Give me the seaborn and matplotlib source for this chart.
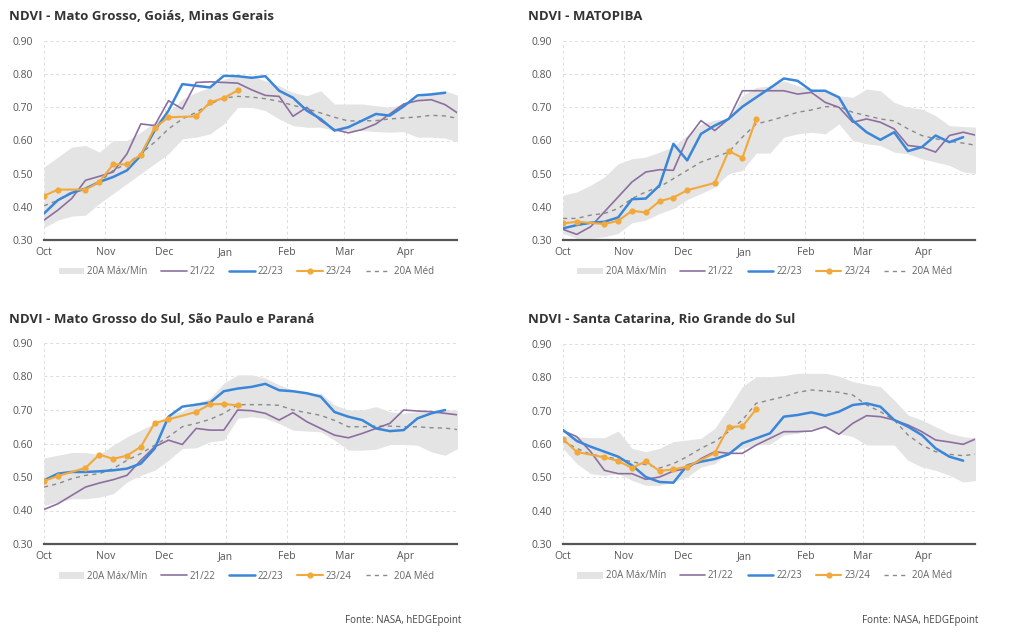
import numpy as np
import pandas as pd
import matplotlib
matplotlib.use("Agg")
import matplotlib.pyplot as plt
import seaborn as sns

sns.set_style("white")
plt.rcParams['font.family'] = ['Open Sans', 'DejaVu Sans']

# days since Oct 1 (weekly grid) and month ticks
week_days = np.arange(0, 211, 7)
days_2324 = [0, 7, 21, 28, 35, 42, 49, 56, 63, 77, 84, 91, 98]
month_days = [0, 31, 61, 92, 123, 152, 183]
month_labels = ['Oct', 'Nov', 'Dec', 'Jan', 'Feb', 'Mar', 'Apr']

# --- Mato Grosso, Goiás, Minas Gerais
mt_upper = [0.52, 0.55, 0.58, 0.585, 0.565, 0.60, 0.60, 0.625, 0.655, 0.685, 0.725, 0.745, 0.76, 0.785, 0.795, 0.795,
            0.78, 0.765, 0.745, 0.735, 0.75, 0.71, 0.71, 0.71, 0.705, 0.70, 0.71, 0.73, 0.745, 0.75, 0.735]
mt_lower = [0.337, 0.36, 0.372, 0.375, 0.41, 0.44, 0.47, 0.50, 0.53, 0.56, 0.605, 0.61, 0.62, 0.65, 0.70, 0.70,
            0.69, 0.665, 0.645, 0.64, 0.64, 0.63, 0.63, 0.63, 0.627, 0.625, 0.627, 0.61, 0.61, 0.607, 0.595]
mt_mean = [0.403, 0.42, 0.445, 0.455, 0.475, 0.51, 0.53, 0.56, 0.595, 0.635, 0.665, 0.685, 0.71, 0.728, 0.733, 0.731,
           0.726, 0.718, 0.706, 0.696, 0.683, 0.67, 0.659, 0.659, 0.66, 0.665, 0.668, 0.671, 0.676, 0.674, 0.666]
mt_2122 = [0.36, 0.39, 0.425, 0.48, 0.492, 0.505, 0.56, 0.65, 0.645, 0.72, 0.695, 0.775, 0.777, 0.775, 0.773, 0.753,
           0.736, 0.733, 0.673, 0.70, 0.66, 0.633, 0.623, 0.633, 0.65, 0.68, 0.71, 0.72, 0.723, 0.708, 0.68]
mt_2223 = [0.38, 0.42, 0.442, 0.455, 0.475, 0.49, 0.51, 0.555, 0.63, 0.69, 0.77, 0.765, 0.76, 0.795, 0.794, 0.789,
           0.794, 0.75, 0.729, 0.69, 0.665, 0.63, 0.64, 0.66, 0.68, 0.675, 0.703, 0.736, 0.739, 0.744]
mt_2324 = [0.433, 0.452, 0.452, 0.475, 0.528, 0.528, 0.557, 0.638, 0.67, 0.673, 0.715, 0.728, 0.751]

# --- MATOPIBA
mp_upper = [0.435, 0.445, 0.465, 0.49, 0.53, 0.545, 0.55, 0.565, 0.582, 0.615, 0.65, 0.662, 0.665, 0.735, 0.76, 0.765,
            0.78, 0.765, 0.755, 0.75, 0.735, 0.73, 0.755, 0.75, 0.715, 0.70, 0.695, 0.675, 0.645, 0.642, 0.64]
mp_lower = [0.32, 0.305, 0.305, 0.31, 0.32, 0.352, 0.36, 0.38, 0.395, 0.422, 0.44, 0.46, 0.50, 0.51, 0.562, 0.562,
            0.61, 0.62, 0.625, 0.62, 0.65, 0.60, 0.59, 0.585, 0.565, 0.56, 0.545, 0.535, 0.525, 0.505, 0.50]
mp_mean = [0.365, 0.365, 0.375, 0.38, 0.395, 0.425, 0.445, 0.46, 0.485, 0.51, 0.535, 0.55, 0.565, 0.61, 0.65, 0.66,
           0.672, 0.685, 0.692, 0.702, 0.702, 0.685, 0.675, 0.665, 0.659, 0.635, 0.615, 0.605, 0.598, 0.592, 0.585]
mp_2122 = [0.332, 0.317, 0.34, 0.385, 0.43, 0.475, 0.505, 0.512, 0.51, 0.605, 0.66, 0.63, 0.665, 0.75, 0.75, 0.75,
           0.75, 0.74, 0.745, 0.715, 0.70, 0.655, 0.665, 0.655, 0.635, 0.585, 0.58, 0.565, 0.615, 0.625, 0.615]
mp_2223 = [0.335, 0.345, 0.352, 0.355, 0.368, 0.423, 0.425, 0.465, 0.59, 0.54, 0.62, 0.645, 0.665, 0.702, 0.73, 0.758,
           0.787, 0.78, 0.75, 0.75, 0.73, 0.66, 0.625, 0.602, 0.625, 0.568, 0.58, 0.615, 0.595, 0.61]
mp_2324 = [0.35, 0.355, 0.348, 0.358, 0.388, 0.383, 0.417, 0.428, 0.45, 0.472, 0.568, 0.548, 0.665]

# --- Mato Grosso do Sul, São Paulo e Paraná
ms_upper = [0.557, 0.565, 0.573, 0.573, 0.567, 0.595, 0.62, 0.64, 0.66, 0.685, 0.697, 0.72, 0.735, 0.78, 0.805, 0.805,
            0.795, 0.775, 0.76, 0.75, 0.75, 0.715, 0.70, 0.70, 0.71, 0.695, 0.69, 0.695, 0.695, 0.70, 0.70]
ms_lower = [0.415, 0.425, 0.435, 0.435, 0.44, 0.45, 0.485, 0.505, 0.52, 0.55, 0.585, 0.587, 0.605, 0.61, 0.675, 0.68,
            0.675, 0.66, 0.64, 0.637, 0.635, 0.61, 0.58, 0.58, 0.583, 0.597, 0.597, 0.595, 0.575, 0.565, 0.587]
ms_mean = [0.47, 0.48, 0.495, 0.505, 0.51, 0.525, 0.55, 0.57, 0.595, 0.62, 0.65, 0.66, 0.672, 0.69, 0.716, 0.716,
           0.716, 0.714, 0.70, 0.692, 0.684, 0.669, 0.65, 0.65, 0.652, 0.652, 0.65, 0.65, 0.647, 0.646, 0.641]
ms_2122 = [0.403, 0.42, 0.445, 0.47, 0.482, 0.492, 0.505, 0.55, 0.59, 0.61, 0.597, 0.645, 0.64, 0.64, 0.70, 0.698,
           0.69, 0.67, 0.692, 0.665, 0.645, 0.625, 0.617, 0.63, 0.645, 0.66, 0.70, 0.697, 0.695, 0.69, 0.685]
ms_2223 = [0.49, 0.51, 0.515, 0.515, 0.517, 0.52, 0.525, 0.54, 0.585, 0.68, 0.71, 0.716, 0.722, 0.756, 0.764, 0.769,
           0.778, 0.759, 0.756, 0.75, 0.74, 0.694, 0.68, 0.67, 0.645, 0.637, 0.64, 0.675, 0.69, 0.70]
ms_2324 = [0.488, 0.503, 0.527, 0.567, 0.554, 0.564, 0.59, 0.661, 0.672, 0.694, 0.717, 0.718, 0.714]

# --- Santa Catarina, Rio Grande do Sul
sc_upper = [0.625, 0.622, 0.619, 0.619, 0.639, 0.587, 0.577, 0.587, 0.607, 0.612, 0.617, 0.647, 0.707, 0.772, 0.802,
            0.802, 0.805, 0.812, 0.812, 0.812, 0.804, 0.787, 0.779, 0.772, 0.732, 0.687, 0.672, 0.652, 0.632, 0.622, 0.617]
sc_lower = [0.587, 0.541, 0.511, 0.506, 0.511, 0.491, 0.476, 0.476, 0.486, 0.501, 0.531, 0.541, 0.577, 0.587, 0.597,
            0.599, 0.627, 0.632, 0.647, 0.647, 0.632, 0.622, 0.597, 0.597, 0.597, 0.551, 0.531, 0.521, 0.506, 0.486, 0.491]
sc_mean = [0.609, 0.587, 0.569, 0.562, 0.555, 0.547, 0.538, 0.528, 0.541, 0.562, 0.587, 0.607, 0.637, 0.672, 0.722,
           0.732, 0.742, 0.755, 0.762, 0.759, 0.755, 0.747, 0.717, 0.697, 0.672, 0.627, 0.597, 0.577, 0.569, 0.565, 0.57]
sc_2122 = [0.64, 0.622, 0.577, 0.521, 0.511, 0.511, 0.494, 0.501, 0.519, 0.526, 0.556, 0.577, 0.572, 0.572, 0.597,
           0.617, 0.637, 0.637, 0.639, 0.652, 0.629, 0.662, 0.685, 0.682, 0.672, 0.657, 0.637, 0.612, 0.606, 0.599, 0.617]
sc_2223 = [0.642, 0.609, 0.592, 0.577, 0.562, 0.536, 0.501, 0.486, 0.484, 0.536, 0.547, 0.555, 0.569, 0.602, 0.617,
           0.632, 0.682, 0.687, 0.695, 0.685, 0.697, 0.717, 0.722, 0.712, 0.672, 0.652, 0.627, 0.587, 0.562, 0.55]
sc_2324 = [0.615, 0.576, 0.56, 0.549, 0.528, 0.548, 0.519, 0.524, 0.532, 0.573, 0.651, 0.653, 0.704]

panels = [
    ('NDVI - Mato Grosso, Goiás, Minas Gerais', mt_upper, mt_lower, mt_mean, mt_2122, mt_2223, mt_2324),
    ('NDVI - MATOPIBA', mp_upper, mp_lower, mp_mean, mp_2122, mp_2223, mp_2324),
    ('NDVI - Mato Grosso do Sul, São Paulo e Paraná', ms_upper, ms_lower, ms_mean, ms_2122, ms_2223, ms_2324),
    ('NDVI - Santa Catarina, Rio Grande do Sul', sc_upper, sc_lower, sc_mean, sc_2122, sc_2223, sc_2324),
]

c_band = '#e4e4e4'
c_mean = '#8a8a8a'
c_2122 = '#8c6f9f'
c_2223 = '#3b86d8'
c_2324 = '#f2a93b'

W, H = 1024, 638
fig = plt.figure(figsize=(W / 100, H / 100), dpi=100)

# axes boxes in pixels: left, top, right, bottom ; title position
boxes = [(44, 41, 457, 240, 9, 17), (563, 41, 975, 240, 528, 17),
         (44, 343, 457, 544, 9, 320), (563, 344, 975, 544, 528, 320)]

for (title, up, lo, mean, s1, s2, s3), (l, t, r, b, tx, ty) in zip(panels, boxes):
    ax = fig.add_axes([l / W, 1 - b / H, (r - l) / W, (b - t) / H])
    band = ax.fill_between(week_days, lo, up, color=c_band, lw=0, label='20A Máx/Mín', zorder=1)
    sns.lineplot(x=week_days, y=mean, ax=ax, color=c_mean, lw=1.0, linestyle=(0, (3, 3)), label='20A Méd', zorder=2)
    sns.lineplot(x=week_days, y=s1, ax=ax, color=c_2122, lw=1.2, label='21/22', zorder=3)
    sns.lineplot(x=week_days[:len(s2)], y=s2, ax=ax, color=c_2223, lw=1.8, label='22/23', zorder=4)
    sns.lineplot(x=days_2324, y=s3, ax=ax, color=c_2324, lw=1.5, marker='o', markersize=4.5,
                 markeredgewidth=0, label='23/24', zorder=5)

    ax.set_xlim(0, 209)
    ax.set_ylim(0.30, 0.90)
    ax.set_yticks(np.arange(0.3, 0.91, 0.1))
    ax.set_yticklabels(['%.2f' % v for v in np.arange(0.3, 0.91, 0.1)])
    ax.set_xticks(month_days)
    ax.set_xticklabels(month_labels)
    ax.grid(True, color='#dcdcdc', lw=0.7, linestyle=(0, (3, 3)))
    ax.set_axisbelow(True)
    for side in ['left', 'right', 'top']:
        ax.spines[side].set_visible(False)
    ax.spines['bottom'].set_color('#555555')
    ax.spines['bottom'].set_linewidth(1.6)
    ax.tick_params(axis='both', length=0, labelsize=7.5, colors='#555555')
    ax.tick_params(axis='y', pad=8)
    ax.tick_params(axis='x', pad=5)
    ax.set_xlabel('')
    ax.set_ylabel('')

    handles, labels = ax.get_legend_handles_labels()
    order = ['20A Máx/Mín', '21/22', '22/23', '23/24', '20A Méd']
    hmap = dict(zip(labels, handles))
    ax.legend([hmap[k] for k in order], order, loc='center', bbox_to_anchor=(0.49, -0.16), ncol=5,
              frameon=False, fontsize=7, labelcolor='#666666', handlelength=2.6, columnspacing=1.45,
              handletextpad=0.3)

    fig.text(tx / W, 1 - ty / H, title, fontsize=9.5, fontweight='bold', color='#333333', va='center', ha='left')

fig.text(345 / W, 1 - 621 / H, 'Fonte: NASA, hEDGEpoint', fontsize=7, color='#444444', va='center', ha='left')
fig.text(862 / W, 1 - 621 / H, 'Fonte: NASA, hEDGEpoint', fontsize=7, color='#444444', va='center', ha='left')

fig.savefig('out.png', dpi=100)
